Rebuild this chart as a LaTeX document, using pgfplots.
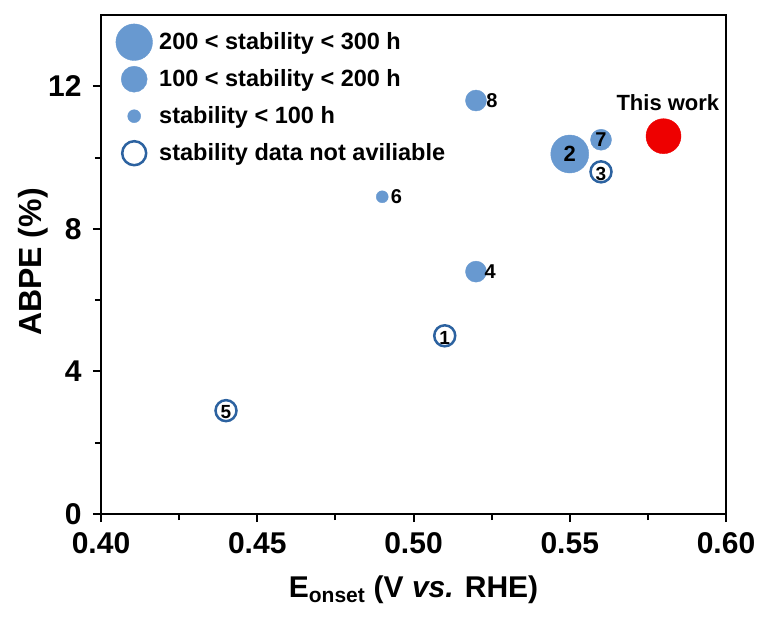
\documentclass[border=0pt]{standalone}
\usepackage{fontspec}
\setmainfont{Liberation Sans}
\usepackage{pgfplots}
\pgfplotsset{compat=1.18}
\definecolor{bfill}{RGB}{104,153,208}
\definecolor{bedge}{RGB}{44,98,160}
\definecolor{rfill}{RGB}{238,0,0}
\begin{document}
\begin{tikzpicture}
\begin{axis}[name=ax, scale only axis, width=625pt, height=499pt,
  xmin=0.40, xmax=0.60, ymin=0, ymax=14,
  xtick={0.40,0.45,0.50,0.55,0.60},
  xticklabels={0.40,0.45,0.50,0.55,0.60},
  minor xtick={0.425,0.475,0.525,0.575},
  ytick={0,4,8,12}, minor ytick={2,6,10},
  tick pos=left, tick align=outside,
  major tick length=8pt, minor tick length=6pt,
  axis line style={line width=2.5pt},
  every tick/.style={line width=2pt, black},
  /pgf/number format/assume math mode=true,
  ticklabel style={font=\bfseries\fontsize{30}{30}\selectfont},
  xticklabel style={yshift=-7pt},
  yticklabel style={xshift=-8pt},
  xlabel={E\textsubscript{onset} (V \textit{vs.} RHE)},
  ylabel={ABPE (\%)},
  xlabel style={font=\bfseries\fontsize{30}{36}\selectfont, at={(axis description cs:0.5,-0.152)}, anchor=center},
  ylabel style={font=\bfseries\fontsize{32}{36}\selectfont, at={(axis description cs:-0.109,0.505)}, anchor=center, rotate=0},
  legend style={at={(0.0,1.0)}, anchor=north west, yshift=-8pt, draw=none, fill=none,
    font=\bfseries\fontsize{23.5}{23.5}\selectfont, row sep=3pt,
    legend cell align=left},
  legend image code/.code={%
    \begin{pgfinterruptboundingbox}\draw[#1] plot coordinates {(30pt,0pt)};\end{pgfinterruptboundingbox}
    \path[draw=none, fill=none] (0,-17pt) rectangle (53pt,17pt);},
]
% legend entries
\addlegendimage{only marks, mark=*, mark size=18.3pt, mark options={fill=bfill, draw=bfill}}
\addlegendentry{200 < stability < 300 h}
\addlegendimage{only marks, mark=*, mark size=13pt, mark options={fill=bfill, draw=bfill}}
\addlegendentry{100 < stability < 200 h}
\addlegendimage{only marks, mark=*, mark size=6.5pt, mark options={fill=bfill, draw=bfill}}
\addlegendentry{stability < 100 h}
\addlegendimage{only marks, mark=*, mark size=12pt, mark options={fill=white, draw=bedge, line width=2.5pt}}
\addlegendentry{stability data not aviliable}
% data
\addplot[forget plot, only marks, mark=*, mark size=19pt, mark options={fill=bfill, draw=bfill}] coordinates {(0.55,10.1)};
\addplot[forget plot, only marks, mark=*, mark size=10.5pt, mark options={fill=bfill, draw=bfill}] coordinates {(0.52,11.6) (0.56,10.5) (0.52,6.8)};
\addplot[forget plot, only marks, mark=*, mark size=6pt, mark options={fill=bfill, draw=bfill}] coordinates {(0.49,8.9)};
\addplot[forget plot, only marks, mark=*, mark size=10.5pt, mark options={fill=white, draw=bedge, line width=2.5pt}] coordinates {(0.56,9.6) (0.51,5.0) (0.44,2.9)};
\addplot[forget plot, only marks, mark=*, mark size=17.5pt, mark options={fill=rfill, draw=rfill}] coordinates {(0.58,10.6)};
% label anchors
\coordinate (l2) at (axis cs:0.55,10.1);
\coordinate (l7) at (axis cs:0.56,10.5);
\coordinate (l3) at (axis cs:0.56,9.55);
\coordinate (l1) at (axis cs:0.51,4.95);
\coordinate (l5) at (axis cs:0.44,2.85);
\coordinate (l8) at (axis cs:0.5251,11.6);
\coordinate (l6) at (axis cs:0.4945,8.9);
\coordinate (l4) at (axis cs:0.5245,6.8);
\coordinate (lt) at (axis cs:0.5814,11.55);
\end{axis}
\node[font=\bfseries\fontsize{22}{22}\selectfont] at (l2) {2};
\node[font=\bfseries\fontsize{20}{20}\selectfont] at (l7) {7};
\node[font=\bfseries\fontsize{19}{19}\selectfont] at (l3) {3};
\node[font=\bfseries\fontsize{19}{19}\selectfont] at (l1) {1};
\node[font=\bfseries\fontsize{19}{19}\selectfont] at (l5) {5};
\node[font=\bfseries\fontsize{20}{20}\selectfont] at (l8) {8};
\node[font=\bfseries\fontsize{20}{20}\selectfont] at (l6) {6};
\node[font=\bfseries\fontsize{20}{20}\selectfont] at (l4) {4};
\node[font=\bfseries\fontsize{22}{22}\selectfont] at (lt) {This work};
\pgfresetboundingbox
\path ([xshift=-101pt,yshift=-105pt]ax.south west) rectangle ++(759pt,619pt);
\end{tikzpicture}
\end{document}
